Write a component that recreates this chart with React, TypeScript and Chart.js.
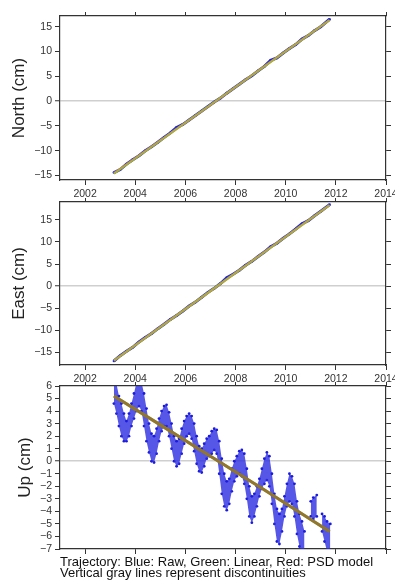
import React, { useEffect, useRef } from 'react';
import { Chart, registerables } from 'chart.js';
Chart.register(...registerables);

// ---------- data ----------
const xTickYears = [2002, 2004, 2006, 2008, 2010, 2012, 2014];

const neTimes = [
  2003.15, 2003.4, 2003.65, 2003.9, 2004.15, 2004.4, 2004.65, 2004.9, 2005.15, 2005.4,
  2005.65, 2005.9, 2006.15, 2006.4, 2006.65, 2006.9, 2007.15, 2007.4, 2007.65, 2007.9,
  2008.15, 2008.4, 2008.65, 2008.9, 2009.15, 2009.4, 2009.65, 2009.9, 2010.15, 2010.4,
  2010.65, 2010.9, 2011.15, 2011.4, 2011.75,
];
const northRaw = [
  -14.4, -13.8, -12.7, -11.8, -11.0, -10.0, -9.2, -8.3, -7.3, -6.4,
  -5.3, -4.7, -3.8, -2.9, -2.0, -1.1, -0.2, 0.6, 1.6, 2.5,
  3.4, 4.3, 5.1, 6.1, 7.0, 8.2, 8.7, 9.7, 10.6, 11.4,
  12.5, 13.2, 14.2, 15.0, 16.5,
];
const eastRaw = [
  -16.9, -15.7, -14.7, -13.8, -12.6, -11.6, -10.7, -9.6, -8.6, -7.5,
  -6.6, -5.6, -4.5, -3.6, -2.5, -1.4, -0.5, 0.6, 1.9, 2.7,
  3.6, 4.7, 5.6, 6.7, 7.7, 8.9, 9.7, 10.8, 11.8, 12.9,
  14.1, 14.8, 15.9, 16.9, 18.4,
];

const modelTimes = [2003.15, 2005.0, 2007.0, 2009.0, 2011.75];
const northLinear = [-14.6, -7.95, -0.76, 6.43, 16.3];
const northPSD = [-14.5, -7.9, -0.8, 6.5, 16.3];
const eastLinear = [-16.8, -9.25, -1.09, 7.07, 18.3];
const eastPSD = [-16.8, -9.2, -1.1, 7.1, 18.3];
const upLinear = [5.2, 2.9, 0.4, -2.1, -5.6];
const upPSD = [5.2, 2.9, 0.4, -2.1, -5.6];

const upTimes = [
  2003.15, 2003.25, 2003.35, 2003.45, 2003.55, 2003.65, 2003.75, 2003.85, 2003.95, 2004.05,
  2004.15, 2004.25, 2004.35, 2004.45, 2004.55, 2004.65, 2004.75, 2004.85, 2004.95, 2005.05,
  2005.15, 2005.25, 2005.35, 2005.45, 2005.55, 2005.65, 2005.75, 2005.85, 2005.95, 2006.05,
  2006.15, 2006.25, 2006.35, 2006.45, 2006.55, 2006.65, 2006.75, 2006.85, 2006.95, 2007.05,
  2007.15, 2007.25, 2007.35, 2007.45, 2007.55, 2007.65, 2007.75, 2007.85, 2007.95, 2008.05,
  2008.15, 2008.25, 2008.35, 2008.45, 2008.55, 2008.65, 2008.75, 2008.85, 2008.95, 2009.05,
  2009.15, 2009.25, 2009.35, 2009.45, 2009.55, 2009.65, 2009.75, 2009.85, 2009.95, 2010.05,
  2010.15, 2010.25, 2010.35, 2010.45, 2010.55, 2010.65, 2010.75, 2010.85,
  2011.0, 2011.1, 2011.24, 2011.33,
  2011.45, 2011.55, 2011.65, 2011.78,
];
const upLow = [
  4.6, 3.8, 2.8, 2.0, 1.6, 1.6, 2.0, 2.8, 3.4, 4.0,
  4.4, 4.0, 2.8, 1.6, 0.7, 0.0, -0.1, 0.6, 1.6, 2.4,
  2.8, 2.8, 2.0, 1.0, 0.0, -0.4, -0.2, 0.6, 1.4, 2.0,
  2.2, 1.8, 0.8, -0.2, -0.8, -0.9, -0.4, 0.2, 0.4, 0.6,
  0.9, 0.6, -1.0, -2.6, -3.6, -3.9, -3.4, -2.4, -1.6, -1.2,
  -1.0, -1.2, -1.8, -3.0, -4.4, -4.9, -4.4, -3.6, -2.8, -2.2,
  -1.8, -1.5, -2.0, -3.4, -5.0, -6.4, -6.6, -5.6, -4.4, -3.6,
  -3.2, -3.4, -4.4, -5.8, -6.8, -7.2, -7.2, null,
  -4.4, -4.6, -4.4, null,
  -5.6, -6.4, -7.2, -7.2,
];
const upHigh = [
  6.5, 6.2, 5.2, 4.6, 3.8, 3.2, 3.8, 4.6, 5.4, 6.3,
  6.5, 6.3, 5.4, 4.2, 3.0, 2.2, 2.0, 2.6, 3.4, 4.0,
  4.4, 4.5, 3.9, 3.0, 2.0, 1.6, 1.8, 2.6, 3.2, 3.6,
  3.8, 3.6, 3.0, 2.0, 1.2, 1.0, 1.4, 1.8, 2.0, 2.4,
  2.6, 2.5, 1.6, 0.2, -1.0, -1.6, -1.4, -0.6, 0.0, 0.4,
  0.8, 0.9, 0.6, -0.6, -2.0, -2.8, -2.6, -2.0, -1.4, -0.6,
  0.2, 0.7, 0.4, -1.0, -2.6, -3.8, -4.2, -3.8, -2.8, -1.8,
  -1.0, -1.2, -1.8, -3.2, -4.2, -4.8, -5.6, null,
  -3.2, -2.9, -2.7, null,
  -4.2, -4.4, -4.8, -5.0,
];

// ---------- helpers ----------
const FONT = '"Liberation Sans", Arial, Helvetica, sans-serif';
const zip = (xs: number[], ys: (number | null)[]) => xs.map((x, i) => ({ x, y: ys[i] }));

function segments(xs: number[], lo: (number | null)[], hi: (number | null)[]) {
  const segs: { lo: any[]; hi: any[] }[] = [];
  let cur = { lo: [] as any[], hi: [] as any[] };
  xs.forEach((x, i) => {
    if (lo[i] === null || hi[i] === null) {
      if (cur.lo.length) segs.push(cur);
      cur = { lo: [], hi: [] };
    } else {
      cur.lo.push({ x, y: lo[i] });
      cur.hi.push({ x, y: hi[i] });
    }
  });
  if (cur.lo.length) segs.push(cur);
  return segs;
}

const minusFmt = (v: any) => {
  const n = Number(v);
  return n < 0 ? '\u2212' + Math.abs(n) : String(n);
};

type PanelCfg = {
  yMin: number; yMax: number; yStep: number; title: string; titlePad: number;
  showXLabels: boolean; topH: number; bottomH: number; datasets: any[];
};

function buildConfig(p: PanelCfg): any {
  const tickFont = { family: FONT, size: 10.5 };
  const yTickFilter = (s: any) => {
    const out: any[] = [];
    for (let v = Math.ceil(p.yMin / p.yStep) * p.yStep; v <= p.yMax + 1e-9; v += p.yStep) out.push({ value: v });
    s.ticks = out;
  };
  const xTicks = (s: any) => { s.ticks = xTickYears.map((v) => ({ value: v })); };
  const frame = { display: true, color: '#333', width: 1.2 };
  return {
    type: 'line',
    data: { datasets: p.datasets },
    options: {
      animation: false,
      responsive: false,
      devicePixelRatio: 1,
      layout: { padding: 0 },
      plugins: { legend: { display: false }, tooltip: { enabled: false } },
      elements: { line: { tension: 0 } },
      scales: {
        x: {
          type: 'linear', position: 'bottom', min: 2001, max: 2014,
          afterBuildTicks: xTicks,
          ticks: { display: p.showXLabels, callback: (v: any) => String(v), font: tickFont, color: '#333', padding: 3, maxRotation: 0, autoSkip: false },
          grid: { drawOnChartArea: false, drawTicks: true, tickLength: 5, color: '#333' },
          border: frame,
          afterFit: (s: any) => { s.height = p.bottomH; s.paddingLeft = 0; s.paddingRight = 0; },
        },
        x2: {
          type: 'linear', position: 'top', min: 2001, max: 2014,
          afterBuildTicks: xTicks,
          ticks: { display: false, autoSkip: false },
          grid: { drawOnChartArea: false, drawTicks: true, tickLength: 4, color: '#333' },
          border: frame,
          afterFit: (s: any) => { s.height = p.topH; s.paddingLeft = 0; s.paddingRight = 0; },
        },
        y: {
          type: 'linear', position: 'left', min: p.yMin, max: p.yMax,
          afterBuildTicks: yTickFilter,
          ticks: { callback: minusFmt, font: tickFont, color: '#333', padding: 3, autoSkip: false },
          grid: {
            drawOnChartArea: true, drawTicks: true, tickLength: 5,
            color: (c: any) => (c.tick && c.tick.value === 0 ? '#cfcfcf' : 'rgba(0,0,0,0)'),
            lineWidth: (c: any) => (c.tick && c.tick.value === 0 ? 1.5 : 1),
            tickColor: '#333', tickWidth: 1,
          },
          border: frame,
          title: { display: true, text: p.title, font: { family: FONT, size: 17 }, color: '#222', padding: { top: p.titlePad, bottom: 0 } },
          afterFit: (s: any) => { s.width = 60; s.paddingTop = 0; s.paddingBottom = 0; },
        },
        y2: {
          type: 'linear', position: 'right', min: p.yMin, max: p.yMax,
          afterBuildTicks: yTickFilter,
          ticks: { display: false, autoSkip: false },
          grid: { drawOnChartArea: false, drawTicks: true, tickLength: 5, color: '#333' },
          border: frame,
          afterFit: (s: any) => { s.width = 9; s.paddingTop = 0; s.paddingBottom = 0; },
        },
      },
    },
  };
}

function neDatasets(raw: number[], lin: number[], psd: number[]) {
  return [
    { label: 'Raw', data: zip(neTimes, raw), borderColor: '#2a2ae0', backgroundColor: '#2020e0', borderWidth: 3, pointRadius: 1.3, pointBorderWidth: 0, order: 3 },
    { label: 'Linear', data: zip(modelTimes, lin), borderColor: 'rgb(125,190,60)', borderWidth: 2.2, pointRadius: 0, order: 2 },
    { label: 'PSD model', data: zip(modelTimes, psd), borderColor: 'rgba(230,145,60,0.55)', borderWidth: 2.2, pointRadius: 0, order: 1 },
  ];
}

function upDatasets() {
  const ds: any[] = [];
  segments(upTimes, upLow, upHigh).forEach((sg) => {
    const idx = ds.length;
    ds.push({ label: 'Raw low', data: sg.lo, borderColor: 'rgba(0,0,0,0)', borderWidth: 0, pointRadius: 1.4, pointBackgroundColor: '#1a1ae0', pointBorderWidth: 0, fill: false, order: 5 });
    ds.push({ label: 'Raw high', data: sg.hi, borderColor: 'rgba(0,0,0,0)', borderWidth: 0, pointRadius: 1.4, pointBackgroundColor: '#1a1ae0', pointBorderWidth: 0, fill: { target: idx }, backgroundColor: 'rgba(45,45,225,0.8)', order: 4 });
  });
  ds.push({ label: 'Linear', data: zip(modelTimes, upLinear), borderColor: 'rgb(70,150,35)', borderWidth: 3, pointRadius: 0, fill: false, order: 2 });
  ds.push({ label: 'PSD model', data: zip(modelTimes, upPSD), borderColor: 'rgba(200,95,50,0.6)', borderWidth: 3, pointRadius: 0, fill: false, order: 1 });
  return ds;
}

function Panel({ top, height, cfg }: { top: number; height: number; cfg: PanelCfg }) {
  const ref = useRef<HTMLCanvasElement | null>(null);
  useEffect(() => {
    if (!ref.current) return;
    const chart = new Chart(ref.current, buildConfig(cfg));
    return () => chart.destroy();
  }, []);
  return (
    <canvas ref={ref} width={395} height={height}
      style={{ position: 'absolute', left: 0, top, width: 395, height }} />
  );
}

export default function App() {
  const north: PanelCfg = {
    yMin: -15.9, yMax: 17.15, yStep: 5, title: 'North (cm)', titlePad: 9.5,
    showXLabels: true, topH: 16, bottomH: 20, datasets: neDatasets(northRaw, northLinear, northPSD),
  };
  const east: PanelCfg = {
    yMin: -17.8, yMax: 19, yStep: 5, title: 'East (cm)', titlePad: 9.5,
    showXLabels: true, topH: 12, bottomH: 25, datasets: neDatasets(eastRaw, eastLinear, eastPSD),
  };
  const up: PanelCfg = {
    yMin: -7, yMax: 6, yStep: 1, title: 'Up (cm)', titlePad: 14.8,
    showXLabels: false, topH: 11, bottomH: 6, datasets: upDatasets(),
  };
  return (
    <div style={{ position: 'fixed', left: 0, top: 0, width: 395, height: 581, overflow: 'hidden', background: '#fff' }}>
      <Panel top={0} height={200} cfg={north} />
      <Panel top={190} height={200} cfg={east} />
      <Panel top={375} height={180} cfg={up} />
      <div style={{ position: 'absolute', left: 60, top: 555.5, fontFamily: FONT, fontSize: 13, lineHeight: '11.5px', color: '#111', whiteSpace: 'nowrap' }}>
        Trajectory: Blue: Raw, Green: Linear, Red: PSD model<br />
        Vertical gray lines represent discontinuities
      </div>
    </div>
  );
}
